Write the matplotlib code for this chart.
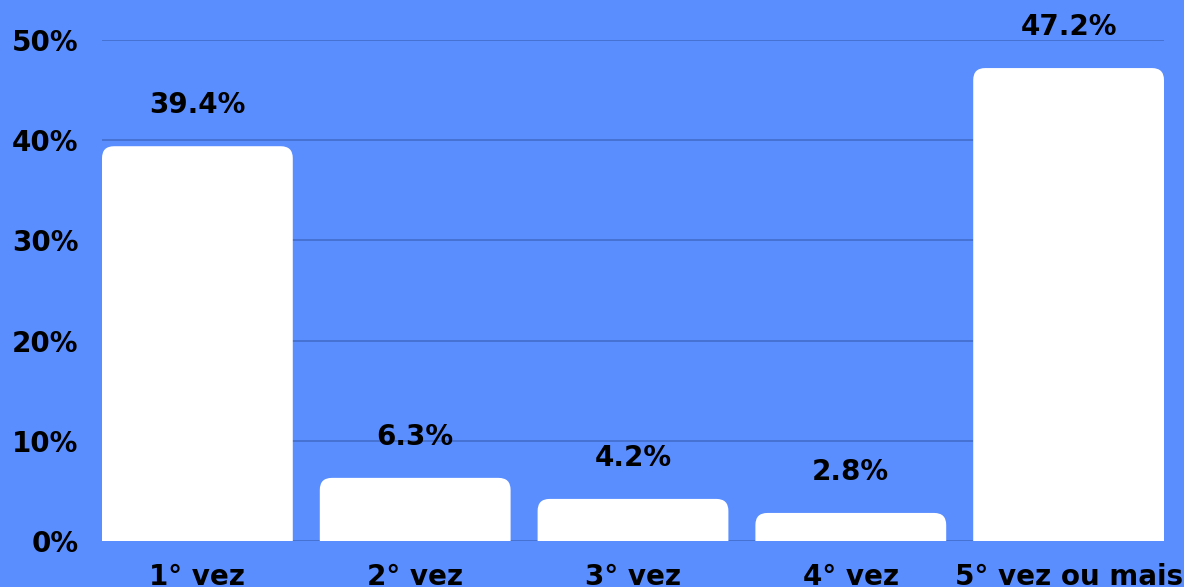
import matplotlib
matplotlib.use('Agg')
import matplotlib.pyplot as plt
from matplotlib.patches import FancyBboxPatch

categories = ['1° vez', '2° vez', '3° vez', '4° vez', '5° vez ou mais']
values = [39.4, 6.3, 4.2, 2.8, 47.2]
yticks = [0, 10, 20, 30, 40, 50]
ytick_labels = ['0%', '10%', '20%', '30%', '40%', '50%']

bg = '#5a8eff'
grid_col = '#4470cf'

plt.rcParams['font.family'] = ['DejaVu Sans']
plt.rcParams['font.weight'] = 'bold'

W, H = 1184, 587
fig = plt.figure(figsize=(W / 100, H / 100), dpi=100, facecolor=bg)
ax = fig.add_axes([102 / W, 46 / H, (1164 - 102) / W, (541 - 40) / H])
ax.set_facecolor(bg)

bw = 0.876
ax.set_xlim(-bw / 2, len(values) - 1 + bw / 2)
ax.set_ylim(0, 50)

# px per data unit, for equal corner radius in x and y
px_x = ax.bbox.width / (ax.get_xlim()[1] - ax.get_xlim()[0])
px_y = ax.bbox.height / 50
radius_px = 12

x = list(range(len(values)))
bars = ax.bar(x, values, width=bw, color='white', zorder=3)
for b in bars:
    b.set_visible(False)
    r = radius_px / px_x
    p = FancyBboxPatch((b.get_x(), -3), b.get_width(), b.get_height() + 3,
                       boxstyle='round,pad=0,rounding_size=%f' % r,
                       mutation_aspect=px_x / px_y,
                       facecolor='white', edgecolor='none', zorder=3)
    ax.add_patch(p)

for xi, v in zip(x, values):
    ax.text(xi, v + 41 / px_y, '%.1f%%' % v, ha='center', va='center',
            fontsize=20, fontweight='bold', color='black', clip_on=False, zorder=4)

ax.set_yticks(yticks)
ax.set_yticklabels(ytick_labels)
ax.set_xticks(x)
ax.set_xticklabels(categories)
ax.tick_params(axis='both', length=0, labelsize=20, colors='black')
ax.tick_params(axis='y', pad=17)
ax.tick_params(axis='x', pad=16)
for lab in ax.get_xticklabels() + ax.get_yticklabels():
    lab.set_fontweight('bold')

ax.grid(axis='y', color=grid_col, linewidth=1.3, zorder=1)
ax.set_axisbelow(True)
for s in ax.spines.values():
    s.set_visible(False)

fig.savefig('out.png', dpi=100, facecolor=bg)
